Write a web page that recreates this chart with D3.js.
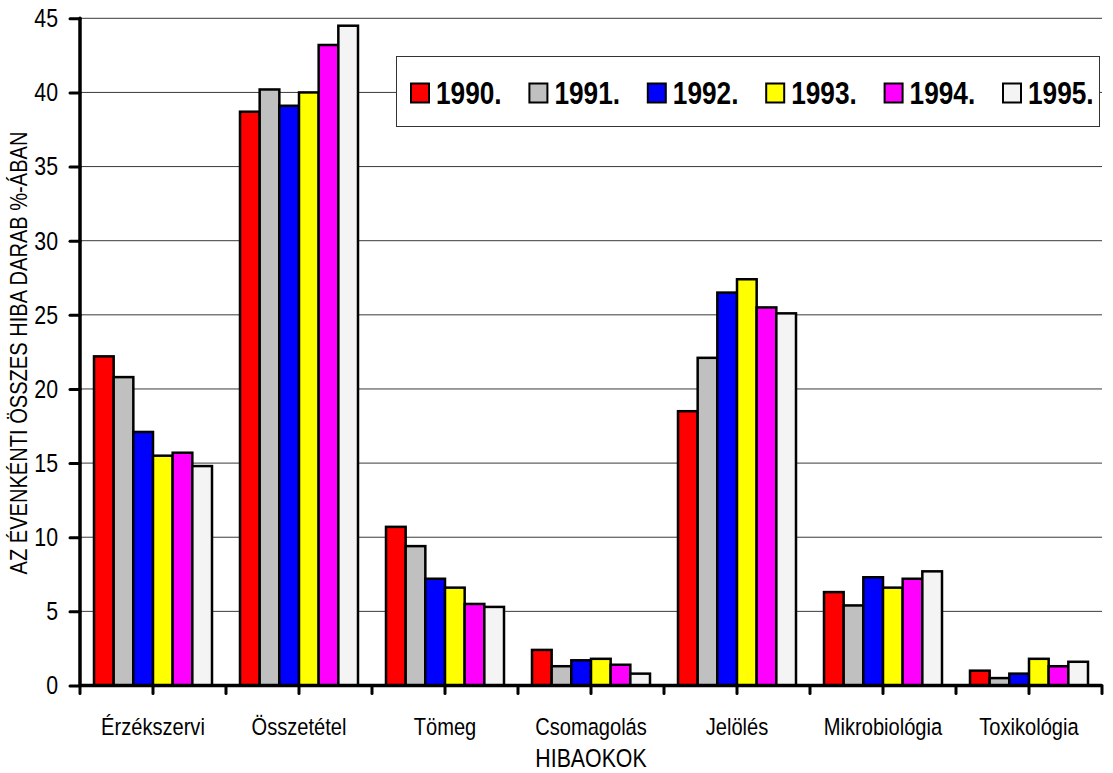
<!DOCTYPE html>
<html>
<head>
<meta charset="utf-8">
<script src="https://cdn.jsdelivr.net/npm/d3@7"></script>
<style>
  html, body { margin: 0; padding: 0; background: #fff; }
  svg { display: block; }
</style>
</head>
<body>
<svg id="chart" width="1113" height="773"></svg>
<script>
// ---- data ----
const categories = ["Érzékszervi", "Összetétel", "Tömeg", "Csomagolás", "Jelölés", "Mikrobiológia", "Toxikológia"];
const years = ["1990.", "1991.", "1992.", "1993.", "1994.", "1995."];
const v1990 = [22.2, 38.7, 10.7, 2.4, 18.5, 6.3, 1.0];
const v1991 = [20.8, 40.2, 9.4, 1.3, 22.1, 5.4, 0.5];
const v1992 = [17.1, 39.1, 7.2, 1.7, 26.5, 7.3, 0.8];
const v1993 = [15.5, 40.0, 6.6, 1.8, 27.4, 6.6, 1.8];
const v1994 = [15.7, 43.2, 5.5, 1.4, 25.5, 7.2, 1.3];
const v1995 = [14.8, 44.5, 5.3, 0.8, 25.1, 7.7, 1.6];
const yTicks = [0, 5, 10, 15, 20, 25, 30, 35, 40, 45];
const yTitle = "AZ ÉVENKÉNTI ÖSSZES HIBA DARAB %-ÁBAN";
const xTitle = "HIBAOKOK";

const seriesValues = [v1990, v1991, v1992, v1993, v1994, v1995];
const colors = ["#ff0000", "#c0c0c0", "#0000ff", "#ffff00", "#ff00ff", "#f4f4f4"];

// ---- font detection ----
function hasFont(name) {
  const c = document.createElement("canvas").getContext("2d");
  const s = "abcdefghijklmnopWMi0123456789";
  c.font = "40px monospace";
  const w0 = c.measureText(s).width;
  c.font = "40px '" + name + "', monospace";
  return c.measureText(s).width !== w0;
}
const NARROW = hasFont("Liberation Sans Narrow");
const FONT = NARROW ? "'Liberation Sans Narrow', 'Arial Narrow', sans-serif" : "'Liberation Sans', Arial, sans-serif";
const SX = NARROW ? 1 : 0.82;

// ---- layout ----
const X0 = 80, X1 = 1102, Y0 = 685.5, Y45 = 18.3;
const svg = d3.select("#chart");

const x = d3.scaleBand().domain(categories).range([X0, X1]).padding(0);
const xs = d3.scaleBand().domain(years).range([14, x.bandwidth() - 14]).padding(0);
const y = d3.scaleLinear().domain([0, 45]).range([Y0, Y45]);

// gridlines
svg.append("g").selectAll("line").data(yTicks.filter(d => d > 0)).join("line")
  .attr("x1", X0).attr("x2", X1)
  .attr("y1", d => y(d)).attr("y2", d => y(d))
  .attr("stroke", "#3a3a3a").attr("stroke-width", 1);

// legend box
const lg = svg.append("g");
lg.append("rect").attr("x", 396.5).attr("y", 56.5).attr("width", 703).attr("height", 70)
  .attr("fill", "#fff").attr("stroke", "#333").attr("stroke-width", 1);
years.forEach((yr, i) => {
  const lx = 411 + i * 118.4;
  lg.append("rect").attr("x", lx).attr("y", 83.5).attr("width", 18).attr("height", 19)
    .attr("fill", colors[i]).attr("stroke", "#000").attr("stroke-width", 2);
  lg.append("text").text(yr)
    .attr("transform", `translate(${lx + 25},103.5) scale(${SX},1)`)
    .attr("font-family", FONT).attr("font-weight", "bold").attr("font-size", 32)
    .attr("fill", "#000");
});

// bars
const groups = svg.append("g").selectAll("g").data(categories).join("g")
  .attr("transform", d => `translate(${x(d)},0)`);
groups.selectAll("rect").data((c, ci) => years.map((yr, si) => ({ yr, si, v: seriesValues[si][ci] })))
  .join("rect")
  .attr("x", d => xs(d.yr))
  .attr("width", xs.bandwidth())
  .attr("y", d => y(d.v))
  .attr("height", d => Y0 - y(d.v))
  .attr("fill", d => colors[d.si])
  .attr("stroke", "#000").attr("stroke-width", 2.5);

// y axis
const yAxis = svg.append("g").attr("transform", `translate(${X0},0)`)
  .call(d3.axisLeft(y).tickValues(yTicks).tickSize(10).tickPadding(12).tickFormat(d3.format("d")));
yAxis.select(".domain").remove();
yAxis.selectAll(".tick line").attr("stroke", "#000").attr("stroke-width", 3).attr("stroke-linecap", "round");
yAxis.selectAll(".tick text")
  .attr("x", null)
  .attr("transform", `translate(-22,0) scale(${SX},1)`)
  .attr("font-family", FONT).attr("font-size", 26).attr("fill", "#000");
svg.append("line").attr("x1", X0).attr("x2", X0).attr("y1", Y45).attr("y2", Y0)
  .attr("stroke", "#000").attr("stroke-width", 3.5).attr("stroke-linecap", "round");

// x axis
const xTickPos = [];
categories.forEach(c => { xTickPos.push(x(c)); xTickPos.push(x(c) + x.bandwidth() / 2); });
xTickPos.push(X1);
svg.append("line").attr("x1", X0).attr("x2", X1).attr("y1", Y0).attr("y2", Y0)
  .attr("stroke", "#000").attr("stroke-width", 3.5);
svg.append("g").selectAll("line").data(xTickPos).join("line")
  .attr("x1", d => d).attr("x2", d => d).attr("y1", Y0).attr("y2", Y0 + 8)
  .attr("stroke", "#000").attr("stroke-width", 3).attr("stroke-linecap", "round");

const xAxis = svg.append("g").attr("transform", `translate(0,${Y0})`)
  .call(d3.axisBottom(x).tickSize(0).tickPadding(0));
xAxis.select(".domain").remove();
xAxis.selectAll(".tick text")
  .attr("y", null).attr("dy", null)
  .attr("transform", `translate(0,49.5) scale(${SX},1)`)
  .attr("font-family", FONT).attr("font-size", 24.5).attr("fill", "#000");

// titles
svg.append("text").text(xTitle)
  .attr("text-anchor", "middle")
  .attr("transform", `translate(${(X0 + X1) / 2},767) scale(${SX},1)`)
  .attr("font-family", FONT).attr("font-size", 26).attr("fill", "#000");
svg.append("text").text(yTitle)
  .attr("text-anchor", "middle")
  .attr("transform", `translate(27,353) rotate(-90) scale(${SX},1)`)
  .attr("font-family", FONT).attr("font-size", 24.5).attr("fill", "#000");
</script>
</body>
</html>
